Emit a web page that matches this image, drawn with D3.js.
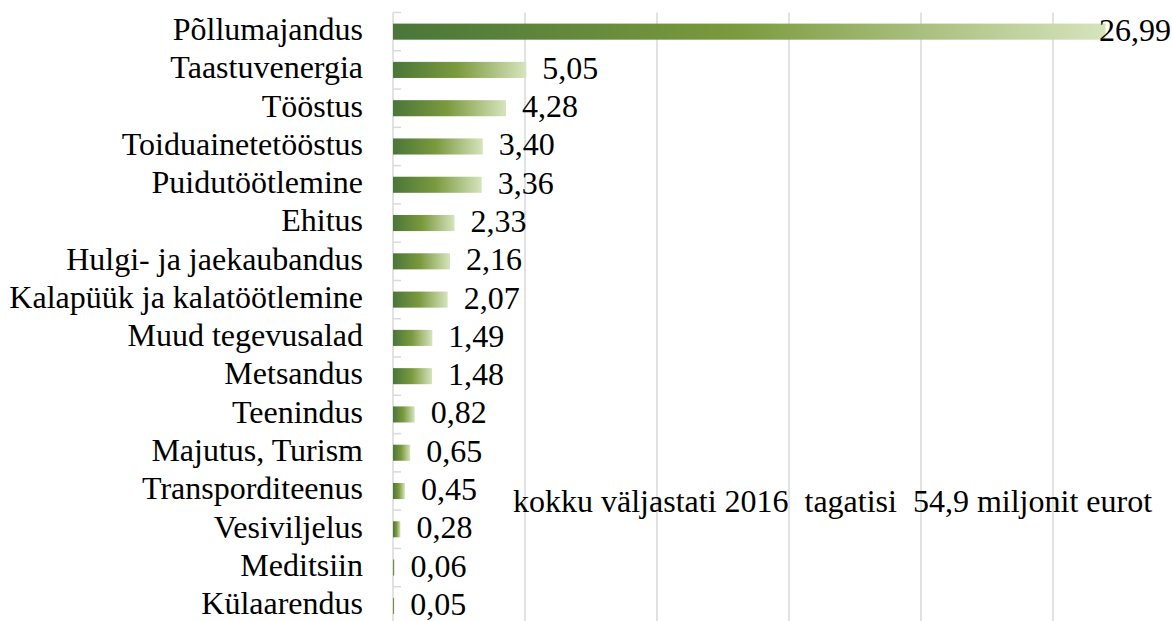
<!DOCTYPE html>
<html>
<head>
<meta charset="utf-8">
<script src="https://cdn.jsdelivr.net/npm/d3@7"></script>
<style>
	body { margin: 0; background: #fff; }
</style>
</head>
<body>
<div id="chart"></div>
<script>
const categories = [
	"Põllumajandus", "Taastuvenergia", "Tööstus", "Toiduainetetööstus",
	"Puidutöötlemine", "Ehitus", "Hulgi- ja jaekaubandus", "Kalapüük ja kalatöötlemine",
	"Muud tegevusalad", "Metsandus", "Teenindus", "Majutus, Turism",
	"Transporditeenus", "Vesiviljelus", "Meditsiin", "Külaarendus"
];
const values = [26.99, 5.05, 4.28, 3.40, 3.36, 2.33, 2.16, 2.07, 1.49, 1.48, 0.82, 0.65, 0.45, 0.28, 0.06, 0.05];
const gridTicks = [5, 10, 15, 20, 25, 30];
const note = "kokku väljastati 2016  tagatisi  54,9 miljonit eurot";

const width = 1172;
const height = 621;
const fontSize = 32;
const fontFamily = "'Liberation Serif', 'Times New Roman', Tinos, 'DejaVu Serif', serif";

const locale = d3.formatLocale({ decimal: ",", thousands: " ", grouping: [3], currency: ["", "€"] });
const fmt = locale.format(".2f");

const svg = d3.select("#chart").append("svg")
	.attr("width", width)
	.attr("height", height)
	.attr("font-family", fontFamily);

const x = d3.scaleLinear().domain([0, 30]).range([393, 1185]);
const y = d3.scaleBand().domain(categories).range([12.5, 625]).paddingInner(0.58).paddingOuter(0.29);

const grad = svg.append("defs").append("linearGradient")
	.attr("id", "barGrad")
	.attr("x1", "0%").attr("x2", "100%").attr("y1", "0%").attr("y2", "0%");
grad.append("stop").attr("offset", "0%").attr("stop-color", "#4a7639");
grad.append("stop").attr("offset", "48%").attr("stop-color", "#7b9a3e");
grad.append("stop").attr("offset", "100%").attr("stop-color", "#d6e4bd");

// vertical gridlines
svg.append("g")
	.selectAll("line")
	.data(gridTicks)
	.join("line")
	.attr("x1", d => x(d)).attr("x2", d => x(d))
	.attr("y1", y.range()[0]).attr("y2", y.range()[1])
	.attr("stroke", "#d9d9d9")
	.attr("stroke-width", 1.5);

// category axis line + boundary ticks
const step = y.step();
const boundaries = categories.map(c => y(c) - step * y.paddingInner() / 2);
boundaries.push(boundaries[boundaries.length - 1] + step);
const axis = svg.append("g");
axis.append("line")
	.attr("x1", x(0)).attr("x2", x(0))
	.attr("y1", y.range()[0]).attr("y2", y.range()[1])
	.attr("stroke", "#d9d9d9")
	.attr("stroke-width", 1.5);
axis.selectAll(".tick")
	.data(boundaries)
	.join("line")
	.attr("class", "tick")
	.attr("x1", x(0)).attr("x2", x(0) + 8)
	.attr("y1", d => d).attr("y2", d => d)
	.attr("stroke", "#d9d9d9")
	.attr("stroke-width", 1.5);

// bars
svg.append("g")
	.selectAll("rect")
	.data(values)
	.join("rect")
	.attr("x", x(0))
	.attr("y", (d, i) => y(categories[i]))
	.attr("width", d => Math.max(1, x(d) - x(0)))
	.attr("height", y.bandwidth())
	.attr("fill", "url(#barGrad)");

// category labels
svg.append("g")
	.selectAll("text")
	.data(categories)
	.join("text")
	.attr("x", 363)
	.attr("y", d => y(d) + y.bandwidth() / 2)
	.attr("dy", "0.26em")
	.attr("text-anchor", "end")
	.attr("font-size", fontSize)
	.text(d => d);

// value labels
svg.append("g")
	.selectAll("text")
	.data(values)
	.join("text")
	.attr("y", (d, i) => y(categories[i]) + y.bandwidth() / 2)
	.attr("dy", "0.28em")
	.attr("font-size", fontSize)
	.text(d => fmt(d))
	.attr("x", function (d) {
		const w = this.getComputedTextLength();
		return Math.min(x(d) + 16, width - w - 1);
	});

// note
svg.append("text")
	.attr("x", 513)
	.attr("y", 502)
	.attr("dy", "0.32em")
	.attr("xml:space", "preserve")
	.style("white-space", "pre")
	.attr("font-size", fontSize)
	.text(note);
</script>
</body>
</html>
